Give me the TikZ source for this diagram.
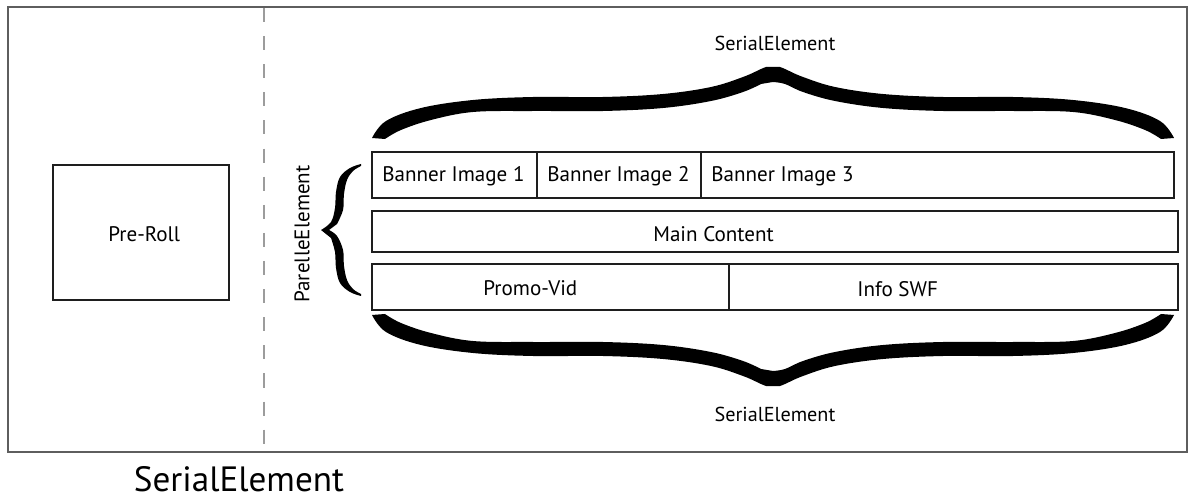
\documentclass[tikz,border=0pt]{standalone}
\usepackage{fontspec}
\setmainfont{PT Sans}
\usetikzlibrary{positioning,calc}
\definecolor{marco}{HTML}{5E5E5E}
\definecolor{guion}{HTML}{9C9C9C}
\definecolor{tinta}{HTML}{1E1E1E}

\newcommand{\llaveserie}{%
 \fill[black] plot[smooth, tension=0.6] coordinates {(-401,71) (-387,54) (-352,41) (-300,33) (-240,30) (-170,30) (-110,27) (-62,20) (-30,10) (-12,2) (-7,0)}
  -- plot[smooth, tension=0.6] coordinates {(7,0) (12,2) (30,10) (62,20) (110,27) (170,30) (240,30) (300,33) (352,41) (387,54) (401,71)}
  -- plot[smooth, tension=0.6] coordinates {(388,72) (372,63) (342,53) (300,45) (240,44) (170,44) (110,41) (62,34) (30,25) (12,17) (0,15)}
  -- plot[smooth, tension=0.6] coordinates {(-12,17) (-30,25) (-62,34) (-110,41) (-170,44) (-240,44) (-300,45) (-342,53) (-372,63) (-388,72)}
  -- cycle;}
\newcommand{\llaveparalela}{%
 \fill[black] plot[smooth, tension=0.6] coordinates {(40,-66) (29,-62) (19,-53) (15,-38) (14,-22) (10,-8) (0,0)}
  -- plot[smooth, tension=0.6] coordinates {(10,8) (14,22) (15,38) (19,53) (29,62) (40,66)}
  -- plot[smooth, tension=0.6] coordinates {(40,64) (32,59) (26,50) (23,36) (22,20) (16,6) (8,0)}
  -- plot[smooth, tension=0.6] coordinates {(16,-6) (22,-20) (23,-36) (26,-50) (32,-59) (40,-64)}
  -- cycle;}

\begin{document}
\begin{tikzpicture}[x=0.02cm, y=-0.02cm,
  celda/.style={draw=tinta, line width=0.7pt, inner sep=0pt},
  texto/.style={font=\fontsize{12}{14}\selectfont, inner sep=0pt, anchor=base west},
  serie/.style={font=\fontsize{11.5}{13}\selectfont, inner sep=0pt, anchor=base}]
\useasboundingbox (0,0) rectangle (1195,499);
\draw[marco, line width=0.8pt] (8,7) rectangle (1187,452);
\draw[guion, line width=1pt, dash pattern=on 8pt off 8pt] (264,8) -- (264,446);

\node[celda, minimum width=3.52cm, minimum height=2.7cm] (preroll) at (141,232.5) {};
\foreach \n/\cx/\cy/\w/\h in {b1/454.5/175/3.3/0.92, b2/619/175/3.28/0.92, b3/937.5/175/9.46/0.92, main/775/231.5/16.12/0.82, promo/550.5/287/7.14/0.92, info/953.5/287/8.98/0.92}
  \node[celda, minimum width=\w cm, minimum height=\h cm] (\n) at (\cx,\cy) {};
\foreach \n/\x/\y/\t in {tpre/108/242/Pre-Roll, t1/382/182/Banner Image 1, t2/547/182/Banner Image 2, t3/711/182/Banner Image 3, tmain/653/242/Main Content, tpromo/483/296/Promo-Vid, tinfo/857/297/Info SWF}
  \node[texto] (\n) at (\x,\y) {\t};

\node[font=\fontsize{12}{14}\selectfont, inner sep=0pt, rotate=90] (paralela) at (302,234) {ParelleElement};
\begin{scope}[shift={(321,230)}]
  \llaveparalela
\end{scope}
\begin{scope}[shift={(773,67)}]
  \llaveserie
\end{scope}
\begin{scope}[shift={(773,386)}, yscale=-1]
  \llaveserie
\end{scope}
\node[serie] (serieA) at (775,51) {SerialElement};
\node[serie] (serieB) at (775,421) {SerialElement};
\node[font=\fontsize{20}{24}\selectfont, inner sep=0pt, anchor=base] (serieC) at (239,491) {SerialElement};
\end{tikzpicture}
\end{document}
